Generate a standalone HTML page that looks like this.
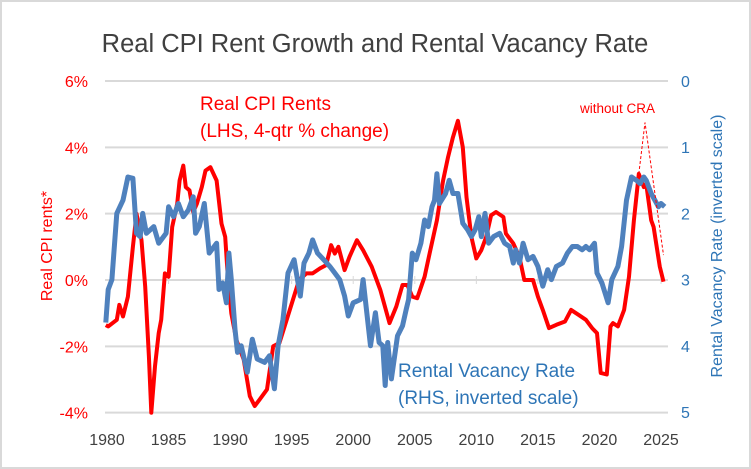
<!DOCTYPE html>
<html><head><meta charset="utf-8">
<style>
html,body{margin:0;padding:0;background:#fff;}
svg{display:block;font-family:"Liberation Sans",sans-serif;}
</style></head>
<body>
<svg id="chart" width="751" height="469" viewBox="0 0 751 469">
<rect x="1" y="1" width="749" height="467" fill="#fff" stroke="#d9d9d9" stroke-width="2"/>
<text x="375" y="52" text-anchor="middle" font-size="25.5" fill="#404040">Real CPI Rent Growth and Rental Vacancy Rate</text>
<g id="grid"></g>
<g id="ticks"></g>
<g id="series"></g>
<text transform="translate(52,246) rotate(-90)" text-anchor="middle" font-size="16" fill="#ff0000">Real CPI rents*</text>
<text transform="translate(722,246) rotate(-90)" text-anchor="middle" font-size="16" fill="#2e75b6">Rental Vacancy Rate (inverted scale)</text>
<text x="200" y="110" font-size="19" fill="#ff0000">Real CPI Rents</text>
<text x="200" y="137" font-size="19" fill="#ff0000">(LHS, 4-qtr % change)</text>
<text x="398" y="377" font-size="19" fill="#2e75b6">Rental Vacancy Rate</text>
<text x="398" y="404" font-size="19" fill="#2e75b6">(RHS, inverted scale)</text>
<text x="580" y="113" font-size="13.5" fill="#ff0000">without CRA</text>
</svg>
<script>
const years=[1980,1985,1990,1995,2000,2005,2010,2015,2020,2025];
const leftTicks=[6,4,2,0,-2,-4];
const rightTicks=[0,1,2,3,4,5];
const rentX=[1979.9,1980.1,1980.8,1981,1981.3,1981.7,1982.1,1982.4,1982.8,1983.1,1983.4,1983.6,1983.9,1984.2,1984.4,1984.7,1985,1985.3,1985.7,1985.9,1986.2,1986.4,1986.7,1987,1987.3,1987.7,1988,1988.4,1988.9,1989.3,1989.6,1989.8,1990.1,1990.5,1991.1,1991.6,1992,1992.4,1993,1993.5,1994,1994.6,1995.1,1995.6,1996.2,1996.7,1997.3,1997.8,1998.2,1998.5,1998.8,1999.3,1999.7,2000.3,2000.8,2001.5,2002.2,2002.95,2003.5,2004,2004.4,2004.8,2005.2,2005.8,2006.2,2006.8,2007.3,2007.7,2008.1,2008.5,2008.9,2009.2,2009.6,2010,2010.4,2010.8,2011.2,2011.6,2012.2,2012.4,2013,2013.5,2013.9,2014.6,2015,2015.4,2015.9,2016.5,2017.2,2017.7,2018.3,2018.9,2019.4,2019.8,2020.1,2020.6,2020.9,2021.1,2021.5,2022,2022.4,2022.8,2023.2,2023.6,2023.8,2024.2,2024.4,2024.9,2025.2];
const rentY=[-1.36,-1.4,-1.2,-0.75,-1.1,-0.5,1.0,2.0,1.2,-0.2,-2.3,-4.0,-2.6,-1.6,-1.2,0.2,0.1,1.6,2.3,3.0,3.45,2.8,2.7,2.05,2.3,2.8,3.3,3.4,3.0,1.7,1.3,0.2,-1.0,-1.8,-2.4,-3.5,-3.8,-3.6,-3.3,-2.0,-1.9,-1.2,-0.6,0,0.2,0.2,0.35,0.45,1.05,0.8,1.0,0.3,0.7,1.2,0.9,0.4,-0.3,-1.3,-0.8,-0.15,-0.15,-0.5,-0.55,0.1,0.8,1.8,3.0,3.7,4.3,4.8,4.0,2.5,1.3,0.65,0.9,1.3,1.95,2.05,1.9,1.4,1.1,0.7,0,0,-0.5,-0.9,-1.45,-1.35,-1.25,-0.9,-1.05,-1.2,-1.45,-1.6,-2.8,-2.85,-1.4,-1.3,-1.4,-0.9,0.1,1.8,3.2,2.8,2.9,1.8,1.6,0.4,-0.05];
const vacX=[1979.9,1980.1,1980.4,1980.8,1981.3,1981.7,1982.1,1982.4,1982.7,1982.9,1983.2,1983.8,1984.2,1984.8,1985,1985.4,1985.8,1986.2,1986.6,1987,1987.2,1987.5,1987.9,1988.3,1988.9,1989.1,1989.4,1989.7,1989.9,1990.1,1990.4,1990.6,1990.9,1991.4,1991.8,1992.2,1992.8,1993.2,1993.6,1993.9,1994.3,1994.7,1995.2,1995.7,1996,1996.4,1996.7,1997.1,1997.6,1998.1,1998.5,1998.9,1999.3,1999.6,2000,2000.6,2000.8,2001.1,2001.4,2001.8,2002.1,2002.4,2002.6,2002.8,2003.1,2003.6,2004,2004.3,2004.5,2004.8,2005.1,2005.5,2005.8,2006.1,2006.4,2006.6,2006.8,2007,2007.5,2007.8,2008.1,2008.5,2008.9,2009.3,2009.6,2009.9,2010.2,2010.4,2010.7,2011,2011.4,2011.9,2012.3,2012.7,2013,2013.2,2013.5,2013.8,2014.2,2014.6,2015,2015.4,2015.8,2016.1,2016.5,2017,2017.4,2017.8,2018.2,2018.6,2018.9,2019.2,2019.6,2019.8,2020.2,2020.7,2021,2021.5,2021.8,2022.2,2022.6,2023,2023.3,2023.6,2023.8,2024.2,2024.8,2025,2025.3];
const vacY=[3.65,3.15,3.0,2.0,1.8,1.45,1.47,2.3,2.35,2.0,2.3,2.2,2.45,2.3,1.9,2.05,1.85,2.05,1.95,1.75,2.3,2.2,1.85,2.6,2.45,3.15,3.05,3.35,2.6,3.0,3.75,4.1,4.0,4.4,3.9,4.2,4.25,4.15,4.65,4.0,3.6,2.9,2.7,3.25,2.75,2.6,2.4,2.6,2.7,2.8,2.9,3.0,3.25,3.55,3.35,3.3,3.0,3.5,4.0,3.5,3.95,4.0,4.6,3.95,4.5,3.85,3.7,3.45,3.3,2.6,2.7,2.45,2.1,2.2,1.9,1.8,1.4,1.85,1.7,1.5,1.7,1.7,2.15,2.25,2.35,2.25,2.05,2.35,2.0,2.45,2.35,2.3,2.45,2.5,2.75,2.55,2.75,2.45,2.7,2.65,2.8,3.1,2.85,3.0,2.8,2.75,2.6,2.5,2.5,2.55,2.5,2.55,2.45,2.9,3.05,3.35,3.0,2.8,2.5,1.8,1.45,1.5,1.55,1.45,1.5,1.7,1.9,1.85,1.9];
const craX=[2023.2,2023.7,2025.2];
const craY=[3.2,4.75,0.75];

const NS="http://www.w3.org/2000/svg";
const X0=105,X1=668;
const xs=y=>107+(y-1980)*(661-107)/45;
const yL=v=>280-v*(280-81)/6;
const yR=v=>81+v*(412-81)/5;
const grid=document.getElementById('grid'),ticks=document.getElementById('ticks'),ser=document.getElementById('series');
function mk(tag,attrs,parent){const e=document.createElementNS(NS,tag);for(const k in attrs)e.setAttribute(k,attrs[k]);parent.appendChild(e);return e;}
leftTicks.forEach(v=>{
  const g=mk('line',{x1:X0,x2:X1,y1:yL(v),y2:yL(v),stroke:'#d9d9d9','stroke-width':2},grid);
  
  
  const t=mk('text',{x:88,y:yL(v)+6,'text-anchor':'end','font-size':16,fill:'#ff0000'},ticks);
  t.textContent=v+'%';
  
  
});
rightTicks.forEach(v=>{
  const t=mk('text',{x:681,y:yR(v)+6,'font-size':16,fill:'#2e75b6'},ticks);
  t.textContent=v;
  
  
});
years.forEach(y=>{
  const t=mk('text',{x:xs(y),y:445,'text-anchor':'middle','font-size':16,fill:'#404040'},ticks);
  t.textContent=y;
  
  
  if(y%5===0&&y!==1980){const tk=mk('line',{x1:xs(y),x2:xs(y),y1:276,y2:284,stroke:'#d9d9d9','stroke-width':1},grid);
  
  }
});
function pts(xa,ya,f){return xa.map((x,i)=>xs(x).toFixed(1)+','+f(ya[i]).toFixed(1)).join(' ');}
const red=mk('polyline',{points:pts(rentX,rentY,yL),fill:'none',stroke:'#ff0000','stroke-width':4,'stroke-linejoin':'round'},ser);


const blue=mk('polyline',{points:pts(vacX,vacY,yR),fill:'none',stroke:'#4f81bd','stroke-width':5,'stroke-linejoin':'round'},ser);


const cra=mk('polyline',{points:pts(craX,craY,yL),fill:'none',stroke:'#ff0000','stroke-width':1,'stroke-dasharray':'3,2'},ser);


</script>
</body></html>
